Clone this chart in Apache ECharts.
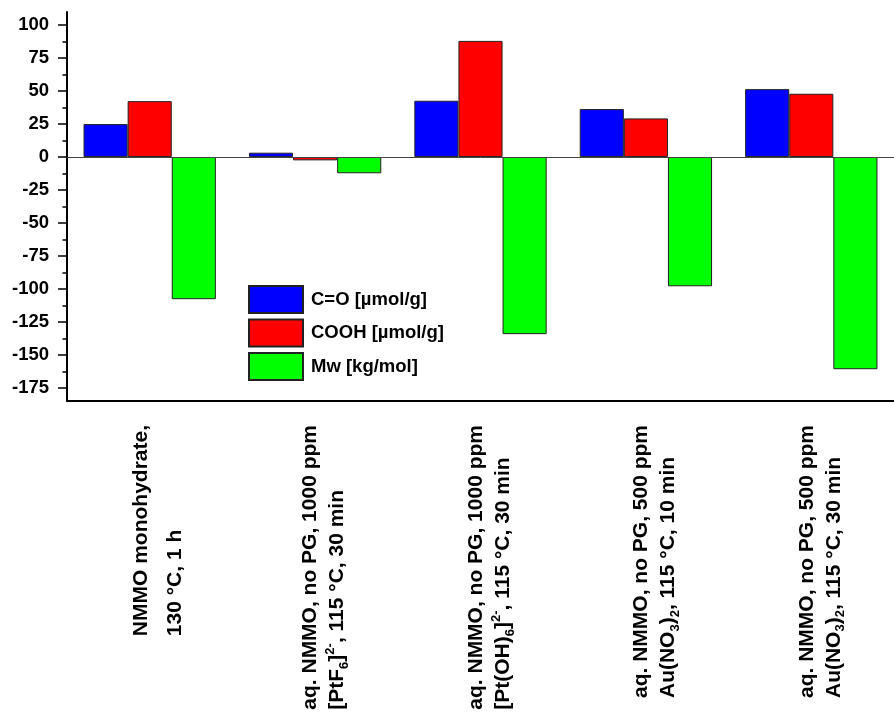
<!DOCTYPE html>
<html>
<head>
<meta charset="utf-8">
<script src="https://cdn.jsdelivr.net/npm/echarts@6/dist/echarts.min.js"></script>
<style>
  html, body { margin: 0; padding: 0; background: #fff; }
  #main_01 { width: 894px; height: 721px; }
</style>
</head>
<body>
<div id="main_01"></div>
<script>
  // x labels, rich markup for sub/superscripts
  let categories = [
    '{w|NMMO monohydrate,}\n{w|130 °C, 1 h}',
    '{b|aq. NMMO, no PG, 1000 ppm}\n{b|[PtF}{sub|6}{b|]}{sup|2-}{b|, 115 °C, 30 min}',
    '{b|aq. NMMO, no PG, 1000 ppm}\n{b|[Pt(OH)}{sub|6}{b|]}{sup|2-}{b|, 115 °C, 30 min}',
    '{b|aq. NMMO, no PG, 500 ppm}\n{b|Au(NO}{sub|3}{b|)}{sub|2}{b|, 115 °C, 10 min}',
    '{b|aq. NMMO, no PG, 500 ppm}\n{b|Au(NO}{sub|3}{b|)}{sub|2}{b|, 115 °C, 30 min}'
  ];
  let seriesNames = ['C=O [µmol/g]', 'COOH [µmol/g]', 'Mw [kg/mol]'];
  let coValues = [25, 3.3, 42.7, 36.4, 51.5];
  let coohValues = [42.4, -2.5, 88.1, 29.3, 48];
  let mwValues = [-107.8, -12.3, -134.3, -98, -160.9];
  let yTicks = [-175, -150, -125, -100, -75, -50, -25, 0, 25, 50, 75, 100];
  let yMinorTicks = [-162.5, -137.5, -112.5, -87.5, -62.5, -37.5, -12.5, 12.5, 37.5, 62.5, 87.5];

  let font = "'Liberation Sans', Arial, sans-serif";
  let chart = echarts.init(document.getElementById('main_01'));

  function barSeries(name, data, color) {
    return {
      name: name,
      type: 'bar',
      data: data,
      barGap: '0%',
      barCategoryGap: '20%',
      itemStyle: { color: color, borderColor: '#222', borderWidth: 1 }
    };
  }

  let series = [
    barSeries(seriesNames[0], coValues, '#0000ff'),
    barSeries(seriesNames[1], coohValues, '#ff0000'),
    barSeries(seriesNames[2], mwValues, '#00ff00')
  ];
  // zero line
  series[0].markLine = {
    silent: true,
    symbol: ['none', 'none'],
    label: { show: false },
    lineStyle: { color: '#444', width: 1, type: 'solid' },
    data: [{ yAxis: 0 }]
  };

  let txt = { fontSize: 21, fontWeight: 'bold', fontFamily: font, color: '#000', align: 'left' };

  let option = {
    animation: false,
    backgroundColor: '#fff',
    grid: { left: 67, right: -9, top: 12, bottom: 320, containLabel: false },
    legend: {
      orient: 'vertical',
      left: 248,
      top: 285,
      padding: 0,
      icon: 'rect',
      itemWidth: 54,
      itemHeight: 27,
      itemGap: 4.5,
      textStyle: { fontSize: 18.5, fontWeight: 'bold', fontFamily: font, color: '#000', padding: [0, 0, 0, 3] },
      data: seriesNames
    },
    xAxis: {
      type: 'category',
      data: categories,
      position: 'bottom',
      axisLine: { onZero: false, lineStyle: { color: '#000', width: 2 } },
      axisTick: { alignWithLabel: true, length: 9, lineStyle: { color: '#000', width: 1.5 } },
      axisLabel: {
        interval: 0,
        rotate: 90,
        margin: 24,
        padding: [18, 0, 0, 0],
        rich: {
          b: Object.assign({ lineHeight: 27 }, txt),
          w: Object.assign({ lineHeight: 34 }, txt),
          sub: { fontSize: 13, fontWeight: 'bold', fontFamily: font, color: '#000', align: 'left', lineHeight: 27, verticalAlign: 'bottom' },
          sup: { fontSize: 13, fontWeight: 'bold', fontFamily: font, color: '#000', align: 'left', lineHeight: 27, verticalAlign: 'top' }
        }
      }
    },
    yAxis: [{
      type: 'value',
      position: 'left',
      min: -185,
      max: 110,
      splitLine: { show: false },
      axisLine: { show: true, lineStyle: { color: '#000', width: 2 } },
      axisTick: { show: true, length: 9, customValues: yTicks, lineStyle: { color: '#000', width: 1.5 } },
      axisLabel: { customValues: yTicks, margin: 18, fontSize: 18.5, fontWeight: 'bold', fontFamily: font, color: '#000' }
    }, {
      type: 'value',
      position: 'left',
      min: -185,
      max: 110,
      splitLine: { show: false },
      axisLine: { show: false },
      axisTick: { show: true, length: 4.5, customValues: yMinorTicks, lineStyle: { color: '#000', width: 1.5 } },
      axisLabel: { show: false }
    }],
    series: series
  };
  chart.setOption(option);
</script>
</body>
</html>
